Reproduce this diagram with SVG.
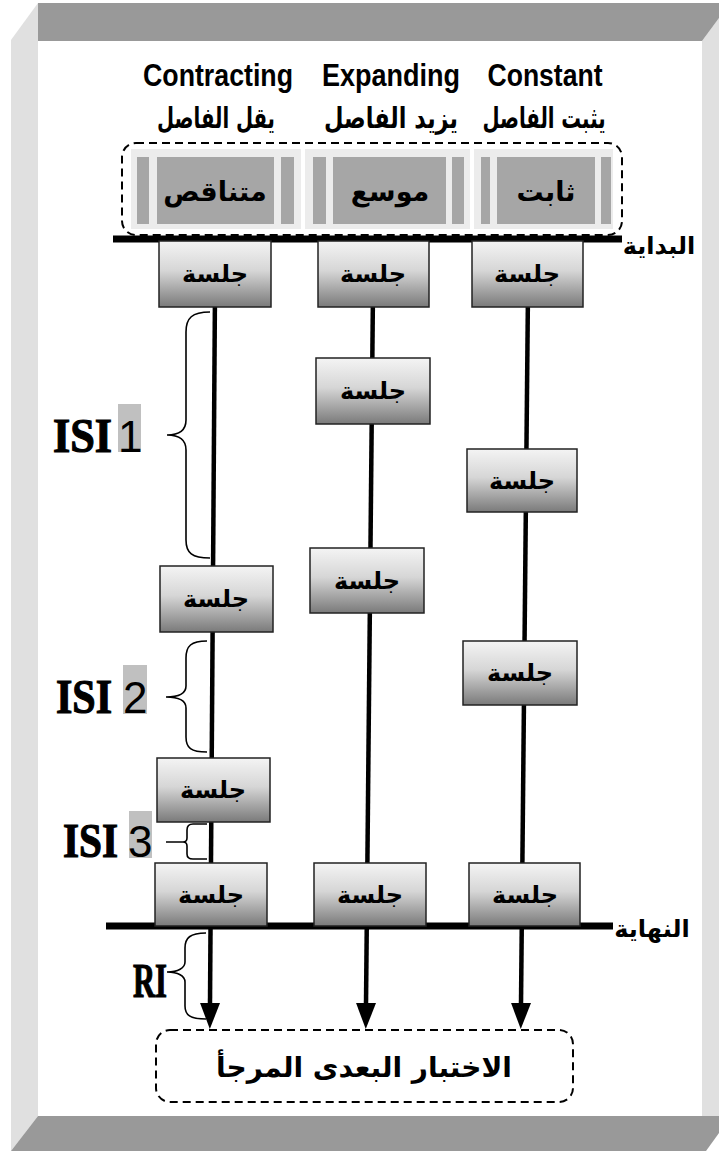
<svg xmlns="http://www.w3.org/2000/svg" width="719" height="1151" viewBox="0 0 719 1151">
  <defs>
    <linearGradient id="sessionFill" x1="0" y1="0" x2="0" y2="1">
      <stop offset="0" stop-color="#f4f4f4"/>
      <stop offset="0.45" stop-color="#d6d6d6"/>
      <stop offset="1" stop-color="#7a7a7a"/>
    </linearGradient>
    <!-- arrowhead drawn along +x so orient="auto" points it down the line -->
    <marker id="arrowHead" viewBox="0 0 26 20" refX="1" refY="10" markerWidth="26" markerHeight="20" markerUnits="userSpaceOnUse" orient="auto">
      <path d="M0,0 L26,10 L0,20 Z" fill="#000"/>
    </marker>
    <style>
      .frameDark { fill: #999999; }
      .frameLight { fill: #e0e0e0; }
      .en { font-family: "Liberation Sans", Arial, sans-serif; font-weight: bold; font-size: 31px; fill: #000; text-anchor: middle; }
      .ar { font-family: "DejaVu Sans", "Noto Sans", sans-serif; font-weight: bold; fill: #000; text-anchor: middle; direction: rtl; }
      .hdrOuter { fill: #ececec; stroke: #ffffff; stroke-width: 2; }
      .hdrGray { fill: #a6a6a6; }
      .session rect { fill: url(#sessionFill); stroke: #222; stroke-width: 1.5; }
      .session text { font-family: "DejaVu Sans", "Noto Sans", sans-serif; font-weight: bold; font-size: 24px; fill: #000; text-anchor: middle; direction: rtl; }
      .timeline { stroke: #000; stroke-width: 4.5; fill: none; }
      .bar { stroke: #000; stroke-width: 7; }
      .brace { fill: none; stroke: #000; stroke-width: 1.6; }
      .dashed { fill: none; stroke: #000; stroke-width: 2; stroke-dasharray: 8 5; }
      .label { fill: #000; }
      .isi { font-family: "Liberation Serif", "Times New Roman", serif; font-weight: bold; font-size: 48px; stroke: #000; stroke-width: 1.2; }
      .digit { font-family: "Liberation Sans", Arial, sans-serif; font-weight: normal; font-size: 44px; stroke: none; }
      .hl { fill: #c0c0c0; }
    </style>
  </defs>

  <!-- page frame -->
  <g id="frame">
    <polygon class="frameLight" points="11,40 38,3 38,1116 11,1151"/>
    <polygon class="frameLight" points="702,41 719,18 719,1133 702,1116"/>
    <polygon class="frameDark" points="38,3 719,3 719,18 702,41 38,41"/>
    <polygon class="frameDark" points="38,1116 719,1116 719,1133 706,1151 11,1151"/>
  </g>

  <!-- column headings -->
  <g id="headings">
    <text class="en" x="218" y="86" textLength="150" lengthAdjust="spacingAndGlyphs">Contracting</text>
    <text class="en" x="391" y="86" textLength="138" lengthAdjust="spacingAndGlyphs">Expanding</text>
    <text class="en" x="545" y="86" textLength="115" lengthAdjust="spacingAndGlyphs">Constant</text>
    <text class="ar" x="216" y="128" font-size="29" textLength="118" lengthAdjust="spacingAndGlyphs">يقل الفاصل</text>
    <text class="ar" x="391" y="128" font-size="29" textLength="134" lengthAdjust="spacingAndGlyphs">يزيد الفاصل</text>
    <text class="ar" x="544" y="128" font-size="29" textLength="123" lengthAdjust="spacingAndGlyphs">يثبت الفاصل</text>
  </g>

  <!-- schedule type boxes -->
  <g id="scheduleTypes">
    <rect class="dashed" x="122" y="143" width="500" height="92" rx="14"/>
    <g id="type-contracting">
      <rect class="hdrOuter" x="130" y="148" width="172" height="82"/>
      <rect class="hdrGray" x="137" y="157" width="12" height="67"/>
      <rect class="hdrGray" x="157" y="157" width="117" height="67"/>
      <rect class="hdrGray" x="281" y="157" width="13" height="67"/>
      <text class="ar" x="215" y="201" font-size="27">متناقص</text>
    </g>
    <g id="type-expanding">
      <rect class="hdrOuter" x="304" y="148" width="167" height="82"/>
      <rect class="hdrGray" x="313" y="157" width="13" height="67"/>
      <rect class="hdrGray" x="333" y="157" width="113" height="67"/>
      <rect class="hdrGray" x="452" y="157" width="12" height="67"/>
      <text class="ar" x="390" y="201" font-size="27">موسع</text>
    </g>
    <g id="type-constant">
      <rect class="hdrOuter" x="473" y="148" width="141" height="82"/>
      <rect class="hdrGray" x="481" y="157" width="9" height="67"/>
      <rect class="hdrGray" x="497" y="157" width="98" height="67"/>
      <rect class="hdrGray" x="601" y="157" width="10" height="67"/>
      <text class="ar" x="546" y="201" font-size="27">ثابت</text>
    </g>
  </g>

  <!-- timelines, start/end bars and arrows -->
  <g id="connectors">
    <line class="timeline" x1="215" y1="290" x2="210" y2="1004" marker-end="url(#arrowHead)"/>
    <line class="timeline" x1="373" y1="290" x2="366" y2="1004" marker-end="url(#arrowHead)"/>
    <line class="timeline" x1="528" y1="290" x2="521" y2="1004" marker-end="url(#arrowHead)"/>
    <line class="bar" x1="113" y1="239" x2="622" y2="239"/>
    <line class="bar" x1="106" y1="926" x2="613" y2="926"/>
  </g>

  <g id="label-start"><text class="ar" x="659" y="254" font-size="24">البداية</text></g>
  <g id="label-end"><text class="ar" x="652" y="937" font-size="24">النهاية</text></g>

  <!-- study sessions -->
  <g id="sessions-contracting">
    <g class="session" id="c1"><rect x="159" y="241" width="112" height="66"/><text x="215" y="282">جلسة</text></g>
    <g class="session" id="c2"><rect x="160" y="566" width="113" height="66"/><text x="216" y="607">جلسة</text></g>
    <g class="session" id="c3"><rect x="157" y="758" width="113" height="64"/><text x="213" y="798">جلسة</text></g>
    <g class="session" id="c4"><rect x="155" y="863" width="112" height="63"/><text x="211" y="903">جلسة</text></g>
  </g>
  <g id="sessions-expanding">
    <g class="session" id="e1"><rect x="318" y="241" width="111" height="66"/><text x="373" y="282">جلسة</text></g>
    <g class="session" id="e2"><rect x="316" y="358" width="114" height="66"/><text x="373" y="399">جلسة</text></g>
    <g class="session" id="e3"><rect x="310" y="548" width="114" height="65"/><text x="367" y="589">جلسة</text></g>
    <g class="session" id="e4"><rect x="314" y="863" width="112" height="63"/><text x="370" y="903">جلسة</text></g>
  </g>
  <g id="sessions-constant">
    <g class="session" id="k1"><rect x="472" y="241" width="111" height="66"/><text x="527" y="282">جلسة</text></g>
    <g class="session" id="k2"><rect x="467" y="449" width="110" height="63"/><text x="522" y="489">جلسة</text></g>
    <g class="session" id="k3"><rect x="463" y="641" width="114" height="64"/><text x="520" y="681">جلسة</text></g>
    <g class="session" id="k4"><rect x="469" y="863" width="111" height="63"/><text x="525" y="903">جلسة</text></g>
  </g>

  <!-- inter-session and retention intervals -->
  <g id="isi1">
    <path class="brace" d="M210,312 C192,312 186,318 186,332 L186,420 C186,430 179,435 167,435 C179,435 186,440 186,450 L186,540 C186,553 192,558 210,558"/>
    <rect class="hl" x="118" y="404" width="23" height="48"/>
    <text class="label" y="452"><tspan class="isi" x="53" textLength="59" lengthAdjust="spacingAndGlyphs">ISI</tspan><tspan class="digit" x="118">1</tspan></text>
  </g>
  <g id="isi2">
    <path class="brace" d="M207,641 C191,641 186,646 186,658 L186,686 C186,693 179,697 166,697 C179,697 186,701 186,708 L186,737 C186,748 191,752 207,752"/>
    <rect class="hl" x="123" y="665" width="24" height="49"/>
    <text class="label" y="713"><tspan class="isi" x="56" textLength="56" lengthAdjust="spacingAndGlyphs">ISI</tspan><tspan class="digit" x="123">2</tspan></text>
  </g>
  <g id="isi3">
    <path class="brace" d="M207,824 L193,824 C189,824 187,826 187,830 L187,838 C187,841 185,842 183,842 L166,842 M183,842 C185,842 187,843 187,846 L187,854 C187,857 189,859 193,859 L207,859"/>
    <rect class="hl" x="129" y="811" width="23" height="47"/>
    <text class="label" y="857"><tspan class="isi" x="63" textLength="55" lengthAdjust="spacingAndGlyphs">ISI</tspan><tspan class="digit" x="128">3</tspan></text>
  </g>
  <g id="ri">
    <path class="brace" d="M206,933 C190,933 185,938 185,948 L185,962 C185,968 178,972 167,972 C178,972 185,976 185,982 L185,1006 C185,1015 190,1019 206,1019"/>
    <text class="label isi" x="133" y="997" font-size="44" textLength="34" lengthAdjust="spacingAndGlyphs">RI</text>
  </g>

  <!-- delayed post-test -->
  <g id="posttest">
    <rect class="dashed" x="156" y="1030" width="417" height="72" rx="14"/>
    <text class="ar" x="364" y="1077" font-size="28">الاختبار البعدى المرجأ</text>
  </g>
</svg>
